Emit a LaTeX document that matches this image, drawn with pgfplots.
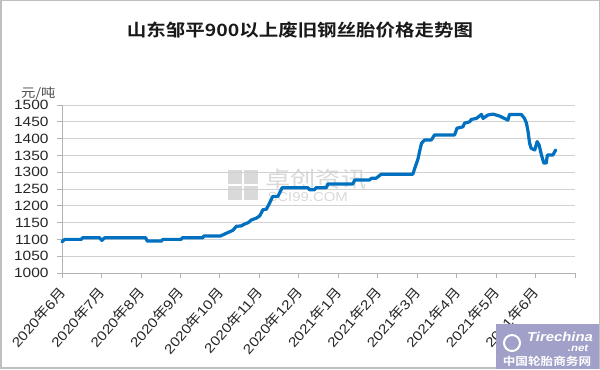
\documentclass[border=0pt]{standalone}
\usepackage{fontspec}
\setmainfont{Liberation Sans}[FakeStretch=1.15]
\newfontfamily\cjk{Noto Sans CJK SC}[FakeStretch=1.15]
\newfontfamily\cjkb{Noto Sans CJK SC Bold}[FakeStretch=1.15]
\usepackage{pgfplots}
\pgfplotsset{compat=1.18}
\definecolor{lineblue}{RGB}{0,112,192}
\definecolor{logobg}{RGB}{160,160,200}
\newcommand\nian{{\cjk 年}}
\newcommand\yue{{\cjk 月}}
\pgfplotstableread{
x y
0.00 1093
0.07 1100
0.49 1100
0.52 1105
0.95 1105
1.01 1097
1.08 1105
2.12 1105
2.16 1095
2.52 1095
2.56 1100
3.02 1100
3.05 1105
3.57 1105
3.59 1110
4.01 1110
4.33 1127
4.42 1139
4.54 1140
4.63 1146
4.72 1150
4.80 1158
4.92 1163
5.01 1170
5.09 1188
5.18 1190
5.26 1208
5.34 1228
5.47 1228
5.58 1254
6.23 1254
6.27 1248
6.40 1248
6.44 1254
6.70 1254
6.74 1265
7.37 1265
7.42 1277
7.80 1277
7.84 1282
7.96 1282
8.09 1294
8.89 1294
8.94 1312
9.02 1339
9.06 1361
9.11 1386
9.19 1396
9.36 1396
9.44 1411
9.95 1411
10.01 1431
10.16 1435
10.20 1446
10.33 1450
10.37 1457
10.50 1460
10.63 1472
10.67 1460
10.79 1470
10.92 1473
11.09 1467
11.30 1455
11.34 1472
11.64 1472
11.72 1460
11.77 1446
11.81 1421
11.85 1386
11.89 1371
11.98 1366
12.04 1391
12.09 1381
12.15 1351
12.21 1327
12.27 1327
12.30 1351
12.44 1351
12.51 1366
}\pricedata
\begin{document}
\begin{tikzpicture}
\fill[white] (0,0) rectangle (600bp,369bp);
\draw[black!25, line width=1.5bp] (0.75bp,0.75bp) rectangle (599.25bp,368.25bp);
\node[font=\cjkb\fontsize{17}{20}\selectfont, text=black!90] at (300bp,339bp) {山东邹平900以上废旧钢丝胎价格走势图};
\node[anchor=east, font=\cjk\fontsize{12.5}{14}\selectfont, text=black!70] at (59bp,276bp) {元/吨};
% watermark
\begin{scope}[black!15]
\foreach \i/\j in {0/0,1/0,0/1,1/1}{
  \fill (228bp+\i*16bp,169bp+\j*16bp) rectangle ++(14bp,14bp);
}
\end{scope}
\node[anchor=west, font=\cjk\fontsize{22}{24}\selectfont, text=black!15] at (262bp,190bp) {卓创资讯};
\node[anchor=west, font=\fontsize{13}{14}\selectfont, text=black!15] at (264bp,172bp) {SCI99.COM};
\begin{axis}[
  at={(62bp,96bp)}, anchor=south west,
  scale only axis, width=513bp, height=168bp,
  xmin=0, xmax=13, ymin=1000, ymax=1500,
  ytick={1000,1050,...,1500},
  xtick={0,...,13},
  xticklabels={2020\nian6\yue,2020\nian7\yue,2020\nian8\yue,2020\nian9\yue,2020\nian10\yue,2020\nian11\yue,2020\nian12\yue,2021\nian1\yue,2021\nian2\yue,2021\nian3\yue,2021\nian4\yue,2021\nian5\yue,2021\nian6\yue,{}},
  axis x line*=bottom, axis y line*=left,
  ymajorgrids, grid style={black!18, line width=0.8bp},
  axis line style={black!30, line width=0.8bp},
  tick style={black!30, line width=0.8bp},
  tick align=outside, major tick length=5bp,
  /pgf/number format/assume math mode=true,
  /pgf/number format/1000 sep={},
  x tick label style={yshift=-9bp, xshift=3bp, rotate=49, anchor=east, font=\fontsize{13.5}{13.5}\selectfont, text=black!85},
  y tick label style={xshift=-5bp, font=\fontsize{13.5}{13.5}\selectfont, text=black!85},
  clip=false,
]
\addplot[lineblue, line width=3.2bp, line join=round, line cap=round] table[x=x,y=y] {\pricedata};
\end{axis}
% logo
\fill[logobg] (496bp,0bp) rectangle (598.5bp,45bp);
\node[font=\bfseries\itshape\fontsize{13}{13}\selectfont, text=white] at (560bp,32bp) {Tirechina};
\node[font=\bfseries\itshape\fontsize{10}{10}\selectfont, text=white] at (578bp,21bp) {.net};
\node[font=\cjkb\fontsize{11}{12}\selectfont, text=white] at (547bp,8bp) {中国轮胎商务网};
\draw[white, line width=2bp] (512bp,26bp) circle (8bp);
\end{tikzpicture}
\end{document}
